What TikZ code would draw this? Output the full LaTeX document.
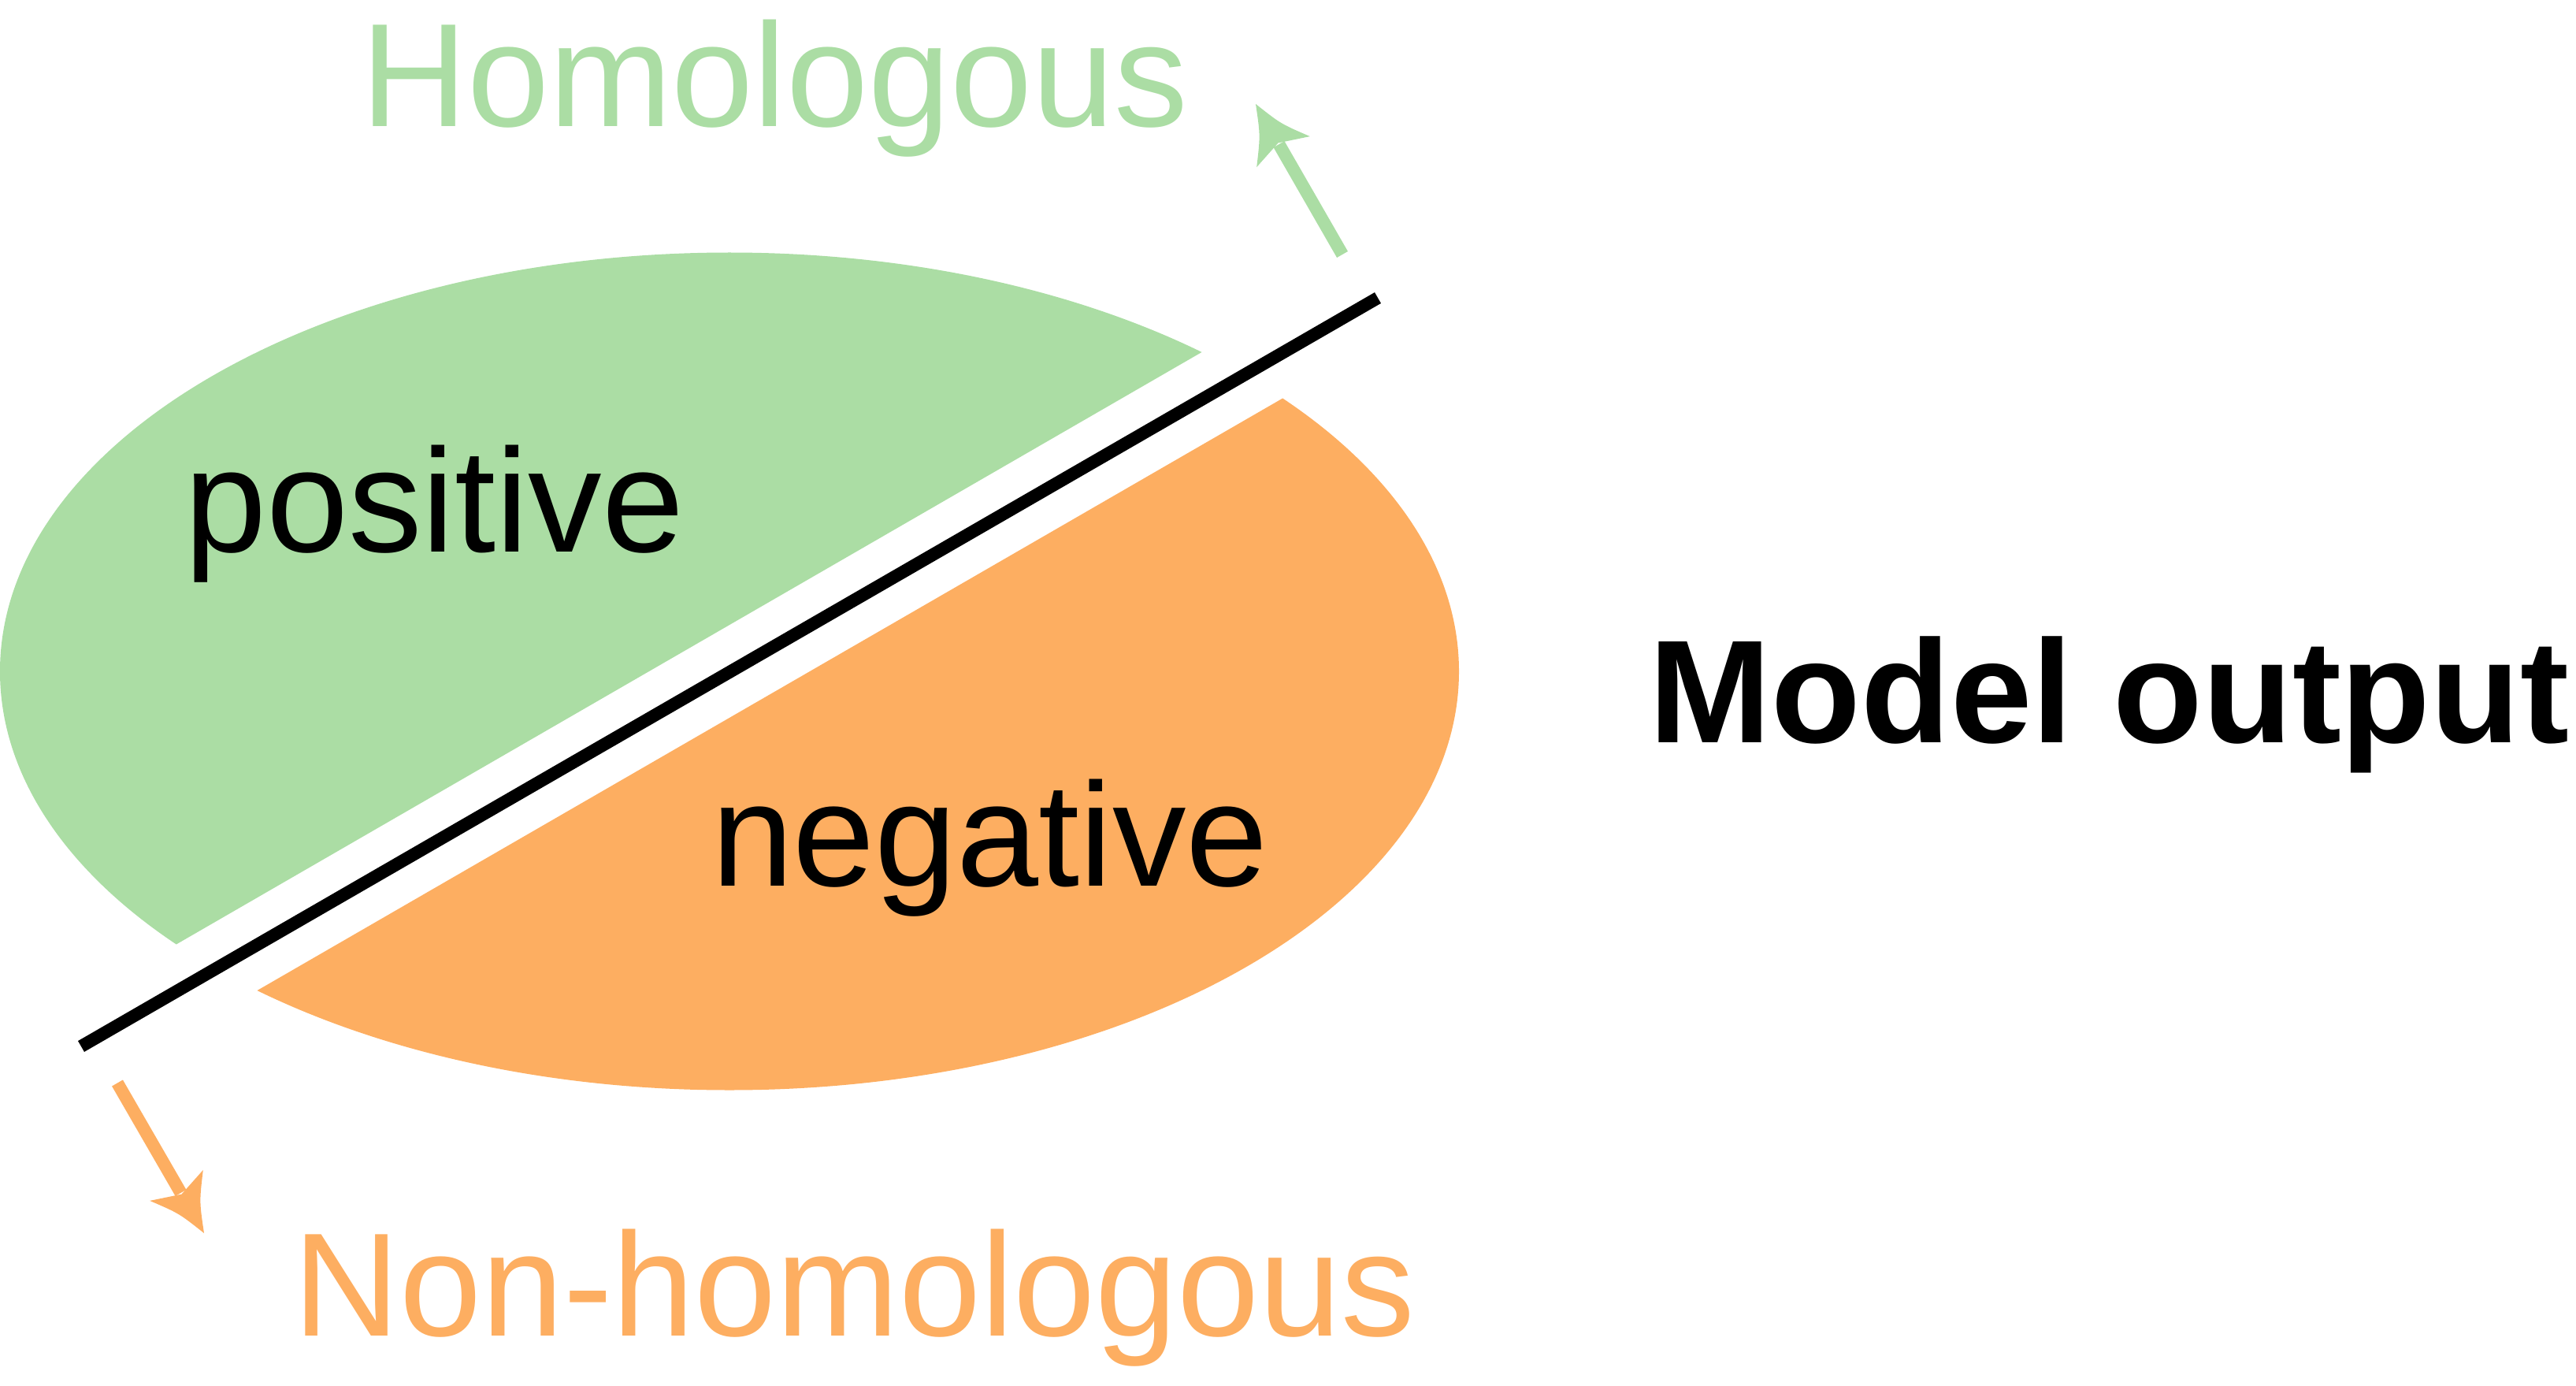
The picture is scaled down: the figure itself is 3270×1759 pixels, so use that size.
\documentclass[tikz,border=0pt]{standalone}
\usepackage{fontspec}
\setmainfont{Liberation Sans}
\definecolor{posgreen}{HTML}{ABDDA4}
\definecolor{negorange}{HTML}{FDAE61}
\begin{document}
\begin{tikzpicture}[x=0.5pt,y=-0.5pt,
  lbl/.style={inner sep=0pt, anchor=base, font=\fontsize{93.5}{112}\selectfont},
  shaft/.style={line width=8pt, line cap=butt},
  divider/.style={line width=8pt, line cap=butt, draw=black}]
\useasboundingbox (0,0) rectangle (3270,1759);
% green (positive) half of the ellipse
\begin{scope}
  \clip (-138.7,1407.8) -- (1939.7,207.8) -- (1339.7,-831.4) -- (-738.7,368.6) -- cycle;
  \fill[posgreen] (926,852) ellipse [x radius=926, y radius=531.5];
\end{scope}
% orange (negative) half of the ellipse
\begin{scope}
  \clip (-87.7,1496.2) -- (1990.7,296.2) -- (2590.7,1335.4) -- (512.3,2535.4) -- cycle;
  \fill[negorange] (926,852) ellipse [x radius=926, y radius=531.5];
\end{scope}
% divider line
\coordinate (d1) at (103,1328);
\coordinate (d2) at (1749,378);
\draw[divider] (d1) -- (d2);
% green arrow
\coordinate (gs) at (1704,323);
\coordinate (ge) at (1623.5,183.1);
\draw[shaft, posgreen] (gs) -- (ge);
\fill[posgreen] (1594,132) .. controls (1625.7,157.1) .. (1662.8,173.1)
  -- (1622.5,181.4) -- (1595.2,212.1) .. controls (1599.9,172.0) .. (1594,132) -- cycle;
% orange arrow
\coordinate (os) at (149,1374.5);
\coordinate (oe) at (229.5,1513.9);
\draw[shaft, negorange] (os) -- (oe);
\fill[negorange] (259,1565) .. controls (253.1,1525.0) .. (257.8,1484.9)
  -- (230.5,1515.6) -- (190.2,1523.9) .. controls (227.3,1539.9) .. (259,1565) -- cycle;
% labels
\node[lbl, text=posgreen] (hom) at (983,161) {Homologous};
\node[lbl, text=negorange] (nonhom) at (1084.5,1695.5) {Non-homologous};
\node[lbl] (pos) at (551.5,700) {positive};
\node[lbl] (neg) at (1256.5,1124) {negative};
\node[lbl, font=\fontsize{93}{112}\selectfont\bfseries] (out) at (2677.5,942.6) {Model output};
\end{tikzpicture}
\end{document}
